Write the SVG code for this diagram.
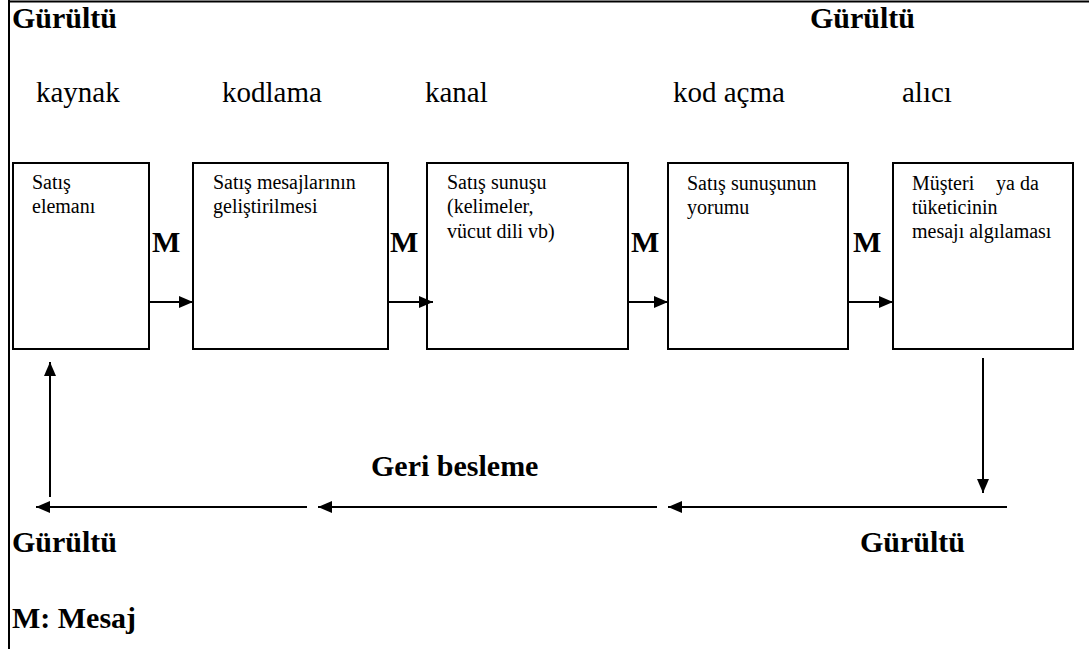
<svg xmlns="http://www.w3.org/2000/svg" width="1089" height="649" viewBox="0 0 1089 649">
<style>
.frame{stroke:#000;stroke-width:2;fill:none}
.box{fill:#fff;stroke:#000;stroke-width:2}
.conn{stroke:#000;stroke-width:2;fill:none}
.hb{font-family:"Liberation Serif","Times New Roman",serif;font-weight:bold;font-size:30px;fill:#000}
.hd{font-family:"Liberation Serif","Times New Roman",serif;font-size:29px;fill:#000}
.bt{font-family:"Liberation Serif","Times New Roman",serif;font-size:20px;fill:#000}
</style>
<defs>
<marker id="ah" viewBox="0 0 14 12" refX="14" refY="6" markerWidth="14" markerHeight="12" markerUnits="userSpaceOnUse" orient="auto">
<path d="M0,0 L14,6 L0,12 Z" fill="#000"/>
</marker>
</defs>
<rect width="1089" height="649" fill="#fff"/>
<g id="frame">
<line class="frame" x1="9" y1="0" x2="9" y2="649"/>
<line class="frame" x1="8" y1="1.5" x2="1089" y2="1.5"/>
</g>
<g id="labels">
<text class="hb" x="12" y="28">Gürültü</text>
<text class="hb" x="810" y="28">Gürültü</text>
<text class="hd" x="36" y="102">kaynak</text>
<text class="hd" x="222" y="102">kodlama</text>
<text class="hd" x="425" y="102">kanal</text>
<text class="hd" x="673" y="102">kod açma</text>
<text class="hd" x="902" y="102">alıcı</text>
<text class="hb" x="371" y="476">Geri besleme</text>
<text class="hb" x="12" y="552">Gürültü</text>
<text class="hb" x="860" y="552">Gürültü</text>
<text class="hb" x="12" y="628">M: Mesaj</text>
</g>
<g id="node1">
<rect class="box" x="13" y="163" width="136" height="186"/>
<text class="bt" x="32" y="189">Satış</text>
<text class="bt" x="32" y="213">elemanı</text>
</g>
<g id="node2">
<rect class="box" x="193" y="163" width="195" height="186"/>
<text class="bt" x="213" y="189">Satış mesajlarının</text>
<text class="bt" x="213" y="213">geliştirilmesi</text>
</g>
<g id="node3">
<rect class="box" x="427" y="163" width="201" height="186"/>
<text class="bt" x="447" y="189">Satış sunuşu</text>
<text class="bt" x="447" y="213">(kelimeler,</text>
<text class="bt" x="447" y="238">vücut dili vb)</text>
</g>
<g id="node4">
<rect class="box" x="668" y="163" width="180" height="186"/>
<text class="bt" x="687" y="190">Satış sunuşunun</text>
<text class="bt" x="687" y="214">yorumu</text>
</g>
<g id="node5">
<rect class="box" x="893" y="163" width="180" height="186"/>
<text class="bt" x="912" y="190">Müşteri<tspan x="996">ya da</tspan></text>
<text class="bt" x="912" y="214">tüketicinin</text>
<text class="bt" x="912" y="238">mesajı algılaması</text>
</g>
<g id="connectors">
<line class="conn" x1="149" y1="302" x2="193" y2="302" marker-end="url(#ah)"/>
<line class="conn" x1="388" y1="302" x2="433" y2="302" marker-end="url(#ah)"/>
<line class="conn" x1="628" y1="302" x2="668" y2="302" marker-end="url(#ah)"/>
<line class="conn" x1="848" y1="302" x2="893" y2="302" marker-end="url(#ah)"/>
<line class="conn" x1="983" y1="358" x2="983" y2="493" marker-end="url(#ah)"/>
<line class="conn" x1="1007" y1="507" x2="668" y2="507" marker-end="url(#ah)"/>
<line class="conn" x1="657" y1="507" x2="318" y2="507" marker-end="url(#ah)"/>
<line class="conn" x1="307" y1="507" x2="36" y2="507" marker-end="url(#ah)"/>
<line class="conn" x1="50" y1="497" x2="50" y2="362" marker-end="url(#ah)"/>
<text class="hb" x="152" y="252">M</text>
<text class="hb" x="390" y="252">M</text>
<text class="hb" x="631" y="252">M</text>
<text class="hb" x="853" y="252">M</text>
</g>
</svg>
